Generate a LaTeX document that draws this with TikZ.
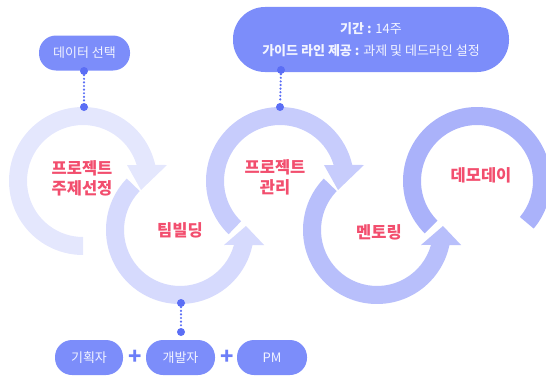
\documentclass[tikz,border=0pt]{standalone}
\usepackage{fontspec}
\newfontfamily\kr{Noto Sans CJK KR}
\usepackage{xcolor}
\usepackage{tikz}
\usetikzlibrary{positioning}

\definecolor{ringa}{HTML}{E4E7FD}
\definecolor{ringb}{HTML}{D6DAFD}
\definecolor{ringc}{HTML}{C7CCFC}
\definecolor{ringd}{HTML}{B8BFFB}
\definecolor{ringe}{HTML}{AAB2FA}
\definecolor{boxblue}{HTML}{7C8DFA}
\definecolor{boxtext}{HTML}{F2F4FF}
\definecolor{dotblue}{HTML}{5B6EF5}
\definecolor{labelred}{HTML}{F24E6E}
\definecolor{plusblue}{HTML}{6C7EF8}

\begin{document}
\begin{tikzpicture}[x=1pt, y=1pt,
    pill/.style={fill=boxblue, text=boxtext, rounded corners=17pt, minimum height=35pt,
                 inner sep=0pt, font=\kr\fontsize{13}{15}\selectfont},
    dot/.style={circle, fill=dotblue, inner sep=0pt, minimum size=8pt},
    link/.style={draw=dotblue, line width=2.4pt, line cap=round, dash pattern=on 0pt off 3.6pt},
    lbl/.style={text=labelred, align=center, font=\kr\bfseries\fontsize{16.5}{20}\selectfont},
    over/.style={preaction={draw=white, line width=3pt}},
    plus/.style={text=plusblue, inner sep=0pt, font=\kr\bfseries\fontsize{22}{22}\selectfont}]
  \useasboundingbox (0,0) rectangle (546,376);
  \clip (0,0) rectangle (546,376);

  % rings going clockwise
  \fill[ringa, shift={(83,195)}] (270:74) arc[start angle=270, end angle=12.5, radius=74]
    -- (84,16) -- (58,-9) -- (44,16) -- (16.6:56)
    arc[start angle=16.6, end angle=270, radius=56] -- cycle;
  \fill[ringc, shift={(280,195)}] (226:74) arc[start angle=226, end angle=12.5, radius=74]
    -- (84,16) -- (58,-9) -- (44,16) -- (16.6:56)
    arc[start angle=16.6, end angle=226, radius=56] -- cycle;
  \fill[ringe, shift={(477,195)}] (225:74) arc[start angle=225, end angle=-40, radius=74]
    -- (-40:56) arc[start angle=-40, end angle=225, radius=56] -- cycle;

  % rings going counter-clockwise, on top
  \fill[ringb, over, shift={(180,146)}] (136:74) arc[start angle=136, end angle=348.3, radius=74]
    -- (84,-15) -- (66,4) -- (44,-15) -- (344.5:56)
    arc[start angle=344.5, end angle=136, radius=56] -- cycle;
  \fill[ringd, over, shift={(377,146)}] (136:74) arc[start angle=136, end angle=348.3, radius=74]
    -- (84,-15) -- (66,4) -- (44,-15) -- (344.5:56)
    arc[start angle=344.5, end angle=136, radius=56] -- cycle;

  % stage labels
  \node[lbl] (topic) at (82,198) {프로젝트\\주제선정};
  \node[lbl] (team) at (180,146) {팀빌딩};
  \node[lbl] (manage) at (275,199) {프로젝트\\관리};
  \node[lbl] (mentor) at (379,144) {멘토링};
  \node[lbl] (demo) at (481,201) {데모데이};

  % pills
  \node[pill, minimum width=91pt] (data) at (84.5,323) {데이터 선택};
  \node[pill, rounded corners=32pt, minimum width=276pt, minimum height=65pt, align=center,
        font=\kr\fontsize{13}{22}\selectfont] (period) at (371,336.5)
        {\textbf{기간 :} 14주\\\textbf{가이드 라인 제공 :} 과제 및 데드라인 설정};
  \node[pill, minimum width=68pt] (planner) at (89,18.5) {기획자};
  \node[pill, minimum width=69pt] (dev) at (180.5,18.5) {개발자};
  \node[pill, minimum width=70pt] (pm) at (272,18.5) {PM};
  \node[plus] (plusa) at (135,19) {+};
  \node[plus] (plusb) at (227,19) {+};

  % dotted links
  \node[dot] (dataend) at (84,305) {};
  \node[dot] (topicend) at (84,269) {};
  \node[dot] (periodend) at (281,306) {};
  \node[dot] (manageend) at (280,269) {};
  \node[dot] (teamend) at (181,73) {};
  \node[dot] (devend) at (181,44) {};
  \draw[link] (dataend) -- (topicend);
  \draw[link] (periodend) -- (manageend);
  \draw[link] (teamend) -- (devend);
\end{tikzpicture}
\end{document}
